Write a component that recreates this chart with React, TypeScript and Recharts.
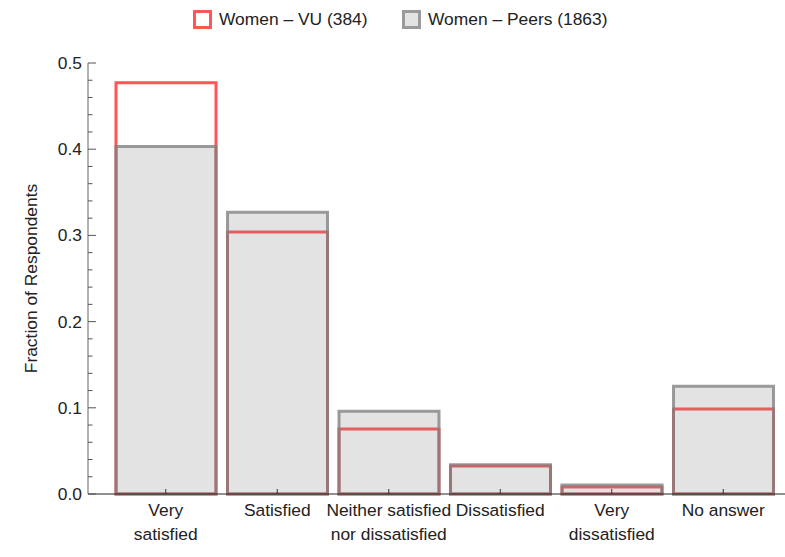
import { BarChart, Bar, XAxis, YAxis } from 'recharts';

// Données
const categories = [
  'Very\nsatisfied',
  'Satisfied',
  'Neither satisfied\nnor dissatisfied',
  'Dissatisfied',
  'Very\ndissatisfied',
  'No answer',
];
const vuValues = [0.477, 0.304, 0.0755, 0.0325, 0.008, 0.0985];
const peersValues = [0.403, 0.327, 0.096, 0.034, 0.0105, 0.125];
const seriesNames = ['Women \u2013 VU (384)', 'Women \u2013 Peers (1863)'];
const yTicks = [
  0, 0.02, 0.04, 0.06, 0.08, 0.1, 0.12, 0.14, 0.16, 0.18, 0.2, 0.22, 0.24,
  0.26, 0.28, 0.3, 0.32, 0.34, 0.36, 0.38, 0.4, 0.42, 0.44, 0.46, 0.48, 0.5,
];
const majorTicks = [0, 0.1, 0.2, 0.3, 0.4, 0.5];

const data = categories.map((c, i) => ({ name: c, vu: vuValues[i], peers: peersValues[i] }));

const FONT = '"Liberation Sans", Arial, sans-serif';
const FS = 17.4;
const AXIS_X = 88;
const AXIS_Y = 494;
const VU_RED = '#ff5555';

function YTick({ y, payload }: { y?: number; payload?: { value: number } }) {
  const v = payload?.value ?? 0;
  const major = majorTicks.some((m) => Math.abs(m - v) < 1e-6);
  return (
    <g>
      <line x1={AXIS_X} x2={AXIS_X + (major ? 8 : 4.5)} y1={y} y2={y} stroke="#555" strokeWidth={1} />
      {major && (
        <text x={AXIS_X - 6} y={y} textAnchor="end" dominantBaseline="central" fontSize={FS} fontFamily={FONT} fill="#222">
          {v.toFixed(1)}
        </text>
      )}
    </g>
  );
}

function XTick({ x, payload }: { x?: number; payload?: { value: string } }) {
  const lines = String(payload?.value ?? '').split('\n');
  return (
    <g>
      <line x1={x} x2={x} y1={AXIS_Y} y2={AXIS_Y - 5} stroke="#333" strokeWidth={1} />
      {lines.map((l, i) => (
        <text key={i} x={x} y={AXIS_Y + 22 + i * 24} textAnchor="middle" fontSize={FS} fontFamily={FONT} fill="#222">
          {l}
        </text>
      ))}
    </g>
  );
}

function Legende() {
  const styles = [
    { border: VU_RED, fill: '#ffffff', left: 193 },
    { border: '#9a9a9a', fill: '#e3e3e3', left: 402 },
  ];
  return (
    <>
      {seriesNames.map((n, i) => (
        <div
          key={n}
          style={{
            position: 'absolute',
            top: 10,
            left: styles[i].left,
            display: 'flex',
            alignItems: 'center',
            fontFamily: FONT,
            fontSize: FS,
            color: '#222',
            height: 19,
            whiteSpace: 'nowrap',
          }}
        >
          <span
            style={{
              display: 'inline-block',
              boxSizing: 'border-box',
              width: 19,
              height: 19,
              border: `3px solid ${styles[i].border}`,
              background: styles[i].fill,
              marginRight: 7,
            }}
          />
          {n}
        </div>
      ))}
    </>
  );
}

export default function App() {
  return (
    <div style={{ position: 'absolute', left: 0, top: 0, width: 785, height: 557, background: '#fff' }}>
      <Legende />
      <BarChart width={785} height={557} data={data} margin={{ top: 63, right: 0, bottom: 0, left: 0 }}>
        <XAxis xAxisId="peers" dataKey="name" hide height={0} padding={{ left: 22, right: 6 }} />
        <XAxis
          xAxisId="vu"
          dataKey="name"
          height={63}
          padding={{ left: 22, right: 6 }}
          axisLine={{ stroke: '#222' }}
          tickLine={false}
          tick={<XTick />}
          interval={0}
        />
        <YAxis
          width={88}
          domain={[0, 0.5]}
          ticks={yTicks}
          interval={0}
          axisLine={{ stroke: '#666' }}
          tickLine={false}
          tick={<YTick />}
          label={{
            value: 'Fraction of Respondents',
            angle: -90,
            position: 'insideLeft',
            dx: 26,
            style: { textAnchor: 'middle', fontSize: FS, fontFamily: FONT, fill: '#222' },
          }}
        />
        <Bar
          xAxisId="vu"
          dataKey="vu"
          name={seriesNames[0]}
          barSize={100}
          fill="none"
          stroke={VU_RED}
          strokeWidth={3}
          isAnimationActive={false}
        />
        <Bar
          xAxisId="peers"
          dataKey="peers"
          name={seriesNames[1]}
          barSize={100}
          fill="rgba(128,128,128,0.22)"
          stroke="rgba(128,128,128,0.78)"
          strokeWidth={3}
          isAnimationActive={false}
        />
      </BarChart>
    </div>
  );
}
